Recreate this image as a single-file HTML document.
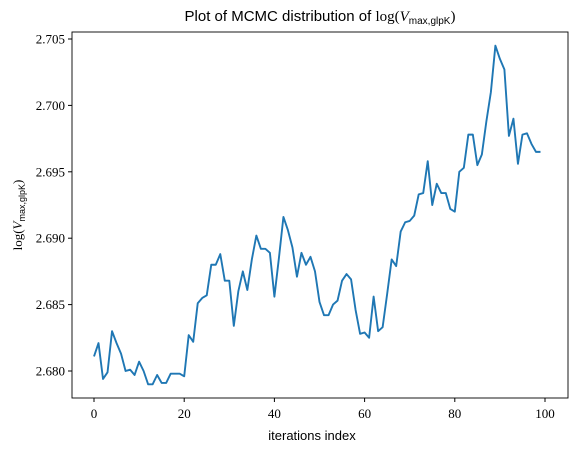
<!DOCTYPE html>
<html><head><meta charset="utf-8"><style>
body{margin:0;background:#fff;}
svg text{fill:#000;}
</style></head><body>
<svg id="c" width="577" height="451" viewBox="0 0 577 451">
<rect x="0" y="0" width="577" height="451" fill="#fff"/>
<text x="320" y="21" font-size="15" text-anchor="middle" style="font-family:'Liberation Sans',sans-serif">Plot of MCMC distribution of <tspan style="font-family:'Liberation Serif',serif">log(</tspan><tspan style="font-family:'Liberation Serif',serif" font-style="italic">V</tspan><tspan font-size="10" dy="3">max,glpK</tspan><tspan dy="-3" style="font-family:'Liberation Serif',serif">)</tspan></text>
<text x="312" y="440" font-size="13" text-anchor="middle" style="font-family:'Liberation Sans',sans-serif">iterations index</text>
<text transform="translate(22,215) rotate(-90)" font-size="13" text-anchor="middle" style="font-family:'Liberation Serif',serif">log(<tspan font-style="italic">V</tspan><tspan font-size="9" dy="3" style="font-family:'Liberation Sans',sans-serif">max,glpK</tspan><tspan dy="-3">)</tspan></text>
<g id="xt"></g><g id="yt"></g>
<path id="line" fill="none" stroke="#1f77b4" stroke-width="1.9" stroke-linejoin="round"/>
<rect x="72" y="32" width="496" height="366" fill="none" stroke="#000" stroke-width="0.9"/>
</svg>
<script>
const values=[2.6811,2.6821,2.6794,2.6799,2.6830,2.6821,2.6813,2.6800,2.6801,2.6797,2.6807,2.6800,2.6790,2.6790,2.6797,2.6791,2.6791,2.6798,2.6798,2.6798,2.6796,2.6827,2.6822,2.6851,2.6855,2.6857,2.6880,2.6880,2.6888,2.6868,2.6868,2.6834,2.6860,2.6875,2.6861,2.6884,2.6902,2.6892,2.6892,2.6889,2.6856,2.6885,2.6916,2.6906,2.6893,2.6871,2.6889,2.6880,2.6886,2.6875,2.6852,2.6842,2.6842,2.6850,2.6853,2.6868,2.6873,2.6869,2.6846,2.6828,2.6829,2.6825,2.6856,2.6830,2.6833,2.6858,2.6884,2.6879,2.6905,2.6912,2.6913,2.6917,2.6933,2.6934,2.6958,2.6925,2.6941,2.6934,2.6934,2.6922,2.6920,2.6950,2.6953,2.6978,2.6978,2.6955,2.6963,2.6988,2.7010,2.7045,2.7035,2.7027,2.6977,2.6990,2.6956,2.6978,2.6979,2.6971,2.6965,2.6965];
const xTicks=[0,20,40,60,80,100];
const yTicks=[2.680,2.685,2.690,2.695,2.700,2.705];
const yTickLabels=["2.680","2.685","2.690","2.695","2.700","2.705"];
const NS="http://www.w3.org/2000/svg";
function X(i){return 94+(i-0)*(545-94)/100;}
function Y(v){return 371-(v-2.680)*(371-39)/0.025;}
const xt=document.getElementById('xt'),yt=document.getElementById('yt');
xTicks.forEach(t=>{
  const l=document.createElementNS(NS,'line');
  l.setAttribute('x1',X(t));l.setAttribute('x2',X(t));l.setAttribute('y1',398);l.setAttribute('y2',402);l.setAttribute('stroke','#000');
  
  
  xt.appendChild(l);
  const s=document.createElementNS(NS,'text');
  s.setAttribute('x',X(t));s.setAttribute('y',418);s.setAttribute('font-size','13');s.setAttribute('text-anchor','middle');s.setAttribute('style',"font-family:'Liberation Serif',serif");s.textContent=t;
  
  
  xt.appendChild(s);
});
yTicks.forEach((t,i)=>{
  const l=document.createElementNS(NS,'line');
  l.setAttribute('x1',68);l.setAttribute('x2',72);l.setAttribute('y1',Y(t));l.setAttribute('y2',Y(t));l.setAttribute('stroke','#000');
  
  
  yt.appendChild(l);
  const s=document.createElementNS(NS,'text');
  s.setAttribute('x',65);s.setAttribute('y',Y(t)+4.5);s.setAttribute('font-size','13');s.setAttribute('text-anchor','end');s.setAttribute('style',"font-family:'Liberation Serif',serif");s.textContent=yTickLabels[i];
  
  
  yt.appendChild(s);
});
document.getElementById('line').setAttribute('d',values.map((v,i)=>(i?'L':'M')+X(i).toFixed(2)+','+Y(v).toFixed(2)).join(''));
</script>
</body></html>
